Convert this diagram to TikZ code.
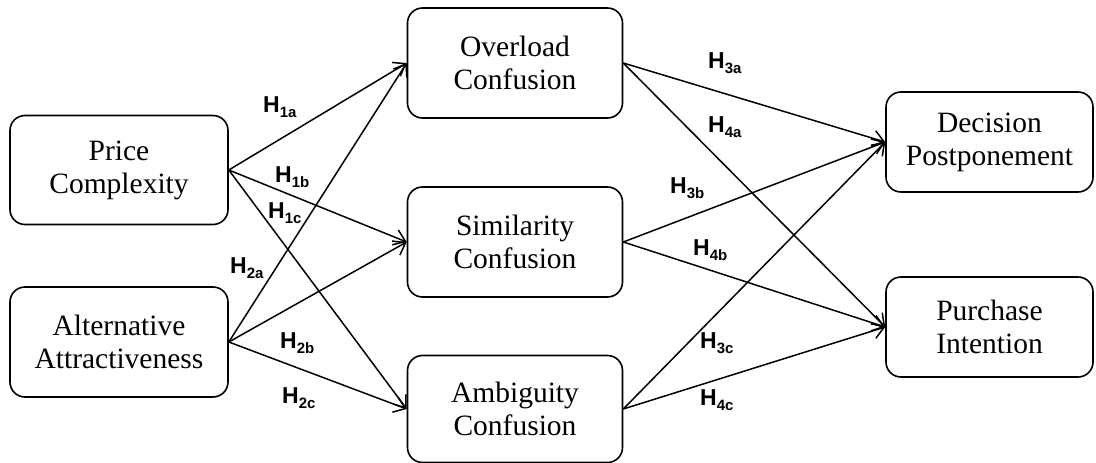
\documentclass[tikz,border=0pt]{standalone}
\usepackage{fontspec}
\setmainfont{Liberation Serif}
\newfontfamily\labfont{Liberation Sans}
\usetikzlibrary{arrows.meta}
\tikzset{
  box/.style={draw, line width=1.6pt, rounded corners=15pt, align=center,
    font=\fontsize{29.5}{33}\selectfont, inner sep=0pt},
  conn/.style={line width=1.5pt, -{Straight Barb[length=11pt,width=16pt,line width=1.5pt]}},
  lab/.style={anchor=base west, inner sep=0pt, font=\labfont\bfseries\fontsize{23}{23}\selectfont},
}
\newcommand{\hyp}[1]{H\raisebox{-5pt}{\fontsize{15}{15}\selectfont #1}}
\begin{document}
\begin{tikzpicture}[x=1pt,y=-1pt]
\useasboundingbox (0,0) rectangle (1096,463);
% nodes
\node[box, minimum width=218pt, minimum height=109pt] (price) at (119,170) {Price\\Complexity};
\node[box, minimum width=218pt, minimum height=110pt] (alt) at (119,342) {Alternative\\Attractiveness};
\node[box, minimum width=215pt, minimum height=110pt] (over) at (515,63) {Overload\\Confusion};
\node[box, minimum width=215pt, minimum height=110pt] (sim) at (515,242) {Similarity\\Confusion};
\node[box, minimum width=215pt, minimum height=107pt] (amb) at (515,409) {Ambiguity\\Confusion};
\node[box, minimum width=207pt, minimum height=100pt] (dec) at (989.5,142) {Decision\\Postponement};
\node[box, minimum width=207pt, minimum height=100pt] (pur) at (989.5,327) {Purchase\\Intention};
% connectors
\draw[conn] (price.east) -- (over.west);
\draw[conn] (price.east) -- (sim.west);
\draw[conn] (price.east) -- (amb.west);
\draw[conn] (alt.east) -- (over.west);
\draw[conn] (alt.east) -- (sim.west);
\draw[conn] (alt.east) -- (amb.west);
\draw[conn] (over.east) -- (dec.west);
\draw[conn] (over.east) -- (pur.west);
\draw[conn] (sim.east) -- (dec.west);
\draw[conn] (sim.east) -- (pur.west);
\draw[conn] (amb.east) -- (dec.west);
\draw[conn] (amb.east) -- (pur.west);
% labels
\node[lab] (h1a) at (263,112) {\hyp{1a}};
\node[lab] (h1b) at (275,182) {\hyp{1b}};
\node[lab] (h1c) at (268,218) {\hyp{1c}};
\node[lab] (h2a) at (230,273) {\hyp{2a}};
\node[lab] (h2b) at (280,348) {\hyp{2b}};
\node[lab] (h2c) at (282,403) {\hyp{2c}};
\node[lab] (h3a) at (708,68) {\hyp{3a}};
\node[lab] (h4a) at (708,132) {\hyp{4a}};
\node[lab] (h3b) at (670,193) {\hyp{3b}};
\node[lab] (h4b) at (693,255) {\hyp{4b}};
\node[lab] (h3c) at (700,348) {\hyp{3c}};
\node[lab] (h4c) at (700,405) {\hyp{4c}};
\end{tikzpicture}
\end{document}
